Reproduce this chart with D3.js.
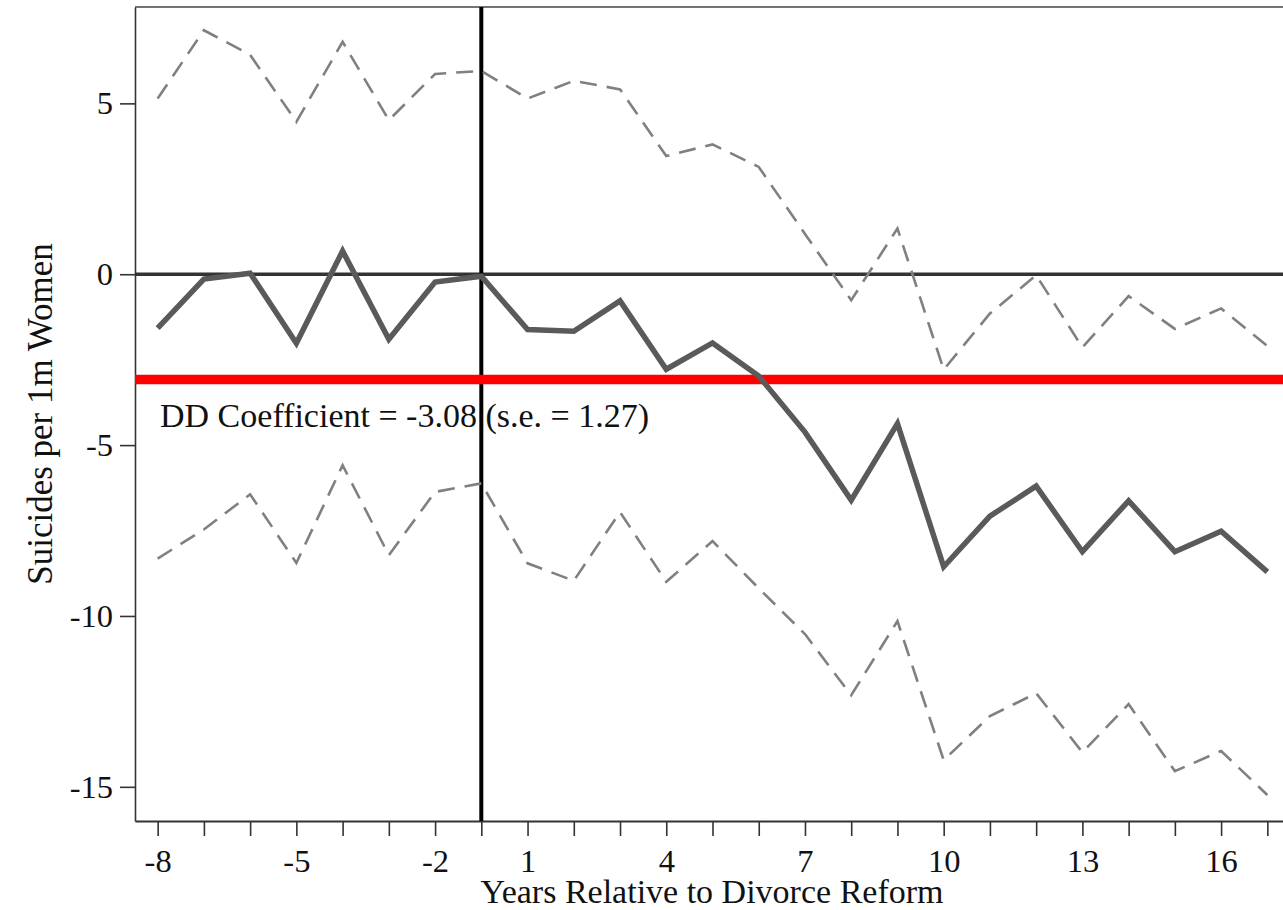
<!DOCTYPE html>
<html>
<head>
<meta charset="utf-8">
<script src="https://cdn.jsdelivr.net/npm/d3@7"></script>
<style>
  body { margin: 0; background: #fff; }
  svg text { font-family: "Liberation Serif", "Times New Roman", serif; fill: #111; }
</style>
</head>
<body>
<div id="chart"></div>
<script>
// event-study years (reform year sits under the vertical line)
var years = [-8, -7, -6, -5, -4, -3, -2, 0, 1, 2, 3, 4, 5, 6, 7, 8, 9, 10, 11, 12, 13, 14, 15, 16, 17];
var tickYears = [-8, -5, -2, 1, 4, 7, 10, 13, 16];
var yTicks = [5, 0, -5, -10, -15];

// point estimates and 95% bands
var estimate = [-1.58, -0.14, 0.03, -2.02, 0.68, -1.90, -0.23, -0.06, -1.62, -1.67, -0.78, -2.78, -2.01,
  -2.98, -4.62, -6.61, -4.37, -8.56, -7.08, -6.20, -8.12, -6.63, -8.12, -7.52, -8.71];
var upperCI = [5.14, 7.14, 6.42, 4.46, 6.80, 4.51, 5.86, 5.95, 5.14, 5.66, 5.41, 3.46, 3.80,
  3.14, 1.18, -0.76, 1.34, -2.79, -1.15, -0.03, -2.14, -0.64, -1.60, -1.00, -2.10];
var lowerCI = [-8.32, -7.47, -6.44, -8.45, -5.59, -8.22, -6.37, -6.12, -8.46, -8.97, -6.96, -9.00, -7.81,
  -9.19, -10.53, -12.32, -10.15, -14.22, -12.93, -12.26, -13.99, -12.58, -14.54, -13.95, -15.24];

var reformYear = 0;
var ddCoef = -3.08;
var ddSE = 1.27;

var svgWidth = 1283;
var svgHeight = 910;

var margin = {
  top: 7,
  left: 135
};

var width = 1155;
var height = 814;

// plain hyphen for negatives, like the original
var fmt = d => String(d);

var svg = d3.select("#chart")
  .append("svg")
  .attr("width", svgWidth)
  .attr("height", svgHeight)
  .style("display", "block");

svg.append("rect")
  .attr("width", svgWidth)
  .attr("height", svgHeight)
  .attr("fill", "#fff");

var chartGroup = svg.append("g")
  .attr("transform", `translate(${margin.left}, ${margin.top})`);

// scales
var xScale = d3.scalePoint()
  .domain(years)
  .range([0, width])
  .padding(0.49);

var yScale = d3.scaleLinear()
  .domain([-16, 7.82])
  .range([height, 0]);

// top frame line
chartGroup.append("line")
  .attr("x1", 0)
  .attr("x2", width)
  .attr("y1", 0)
  .attr("y2", 0)
  .attr("stroke", "#444")
  .attr("stroke-width", 1.5);

// axes
var bottomAxis = d3.axisBottom(xScale)
  .tickSize(15)
  .tickSizeOuter(0)
  .tickPadding(13)
  .tickFormat(d => tickYears.indexOf(d) >= 0 ? fmt(d) : "");

var leftAxis = d3.axisLeft(yScale)
  .tickValues(yTicks)
  .tickSize(15)
  .tickSizeOuter(0)
  .tickPadding(7)
  .tickFormat(fmt);

var xAxis = chartGroup.append("g")
  .attr("transform", `translate(0, ${height})`)
  .call(bottomAxis);

var yAxis = chartGroup.append("g")
  .call(leftAxis);

xAxis.select(".domain").attr("stroke", "#333").attr("stroke-width", 2.2);
yAxis.select(".domain").attr("stroke", "#333").attr("stroke-width", 1.6);
xAxis.selectAll(".tick line").attr("stroke", "#333").attr("stroke-width", 1.6);
yAxis.selectAll(".tick line").attr("stroke", "#333").attr("stroke-width", 1.6);
xAxis.selectAll("text").attr("font-size", "32.5px").attr("font-family", null).style("fill", "#111");
yAxis.selectAll("text").attr("font-size", "32.5px").attr("font-family", null).style("fill", "#111");

// zero line
chartGroup.append("line")
  .attr("x1", 0)
  .attr("x2", width)
  .attr("y1", yScale(0))
  .attr("y2", yScale(0))
  .attr("stroke", "#333")
  .attr("stroke-width", 3.3);

// reform year line
chartGroup.append("line")
  .attr("x1", xScale(reformYear))
  .attr("x2", xScale(reformYear))
  .attr("y1", 0)
  .attr("y2", height)
  .attr("stroke", "#000")
  .attr("stroke-width", 4);

// DD coefficient line
chartGroup.append("line")
  .attr("x1", 0)
  .attr("x2", width)
  .attr("y1", yScale(ddCoef))
  .attr("y2", yScale(ddCoef))
  .attr("stroke", "#ff0000")
  .attr("stroke-width", 9.5);

var lineGen = d3.line()
  .x(d => xScale(d[0]))
  .y(d => yScale(d[1]));

// confidence bands
[upperCI, lowerCI].forEach(function(band) {
  chartGroup.append("path")
    .datum(years.map((yr, i) => [yr, band[i]]))
    .attr("d", lineGen)
    .attr("fill", "none")
    .attr("stroke", "#808080")
    .attr("stroke-width", 2.6)
    .attr("stroke-dasharray", "17,10");
});

// point estimates
chartGroup.append("path")
  .datum(years.map((yr, i) => [yr, estimate[i]]))
  .attr("d", lineGen)
  .attr("fill", "none")
  .attr("stroke", "#5a5a5a")
  .attr("stroke-width", 5.5)
  .attr("stroke-linejoin", "miter");

// annotation
chartGroup.append("text")
  .attr("x", 25)
  .attr("y", 420)
  .attr("font-size", "34px")
  .text(`DD Coefficient = ${ddCoef.toFixed(2)} (s.e. = ${ddSE.toFixed(2)})`);

// axis titles
svg.append("text")
  .attr("x", 712)
  .attr("y", 903)
  .attr("text-anchor", "middle")
  .attr("font-size", "34px")
  .text("Years Relative to Divorce Reform");

svg.append("text")
  .attr("transform", "translate(52, 414) rotate(-90)")
  .attr("text-anchor", "middle")
  .attr("font-size", "35px")
  .text("Suicides per 1m Women");
</script>
</body>
</html>
